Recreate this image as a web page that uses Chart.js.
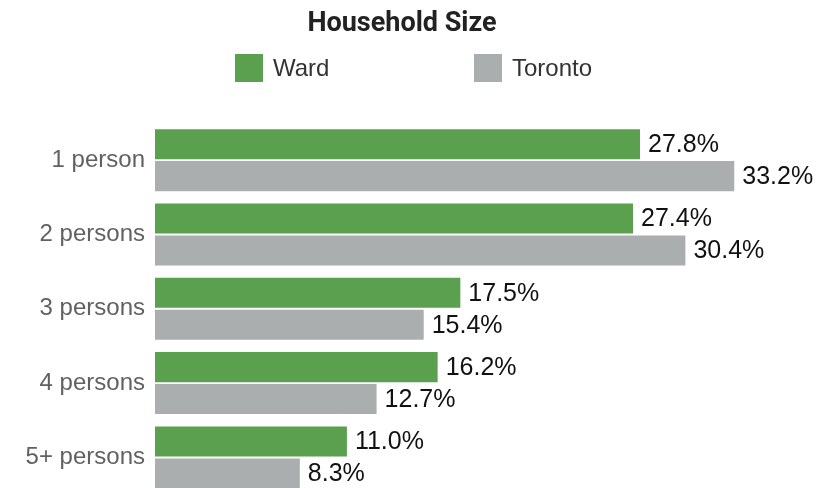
<!DOCTYPE html>
<html>
<head>
<meta charset="utf-8">
<script src="https://cdn.jsdelivr.net/npm/chart.js@4"></script>
<style>
  body { margin: 0; background: #fff; overflow: hidden; }
  #wrap { width: 833px; height: 519px; }
</style>
</head>
<body>
<div id="wrap"><canvas id="household" width="833" height="519"></canvas></div>
<script>
const chartTitle = 'Household Size';
const categories = ['1 person', '2 persons', '3 persons', '4 persons', '5+ persons'];
const wardValues = [27.8, 27.4, 17.5, 16.2, 11.0];
const torontoValues = [33.2, 30.4, 15.4, 12.7, 8.3];

const GREEN = '#5aa04f';
const GREY = '#abaeae';

// title + legend drawn on top of the reserved padding
const headerPlugin = {
	id: 'header',
	afterDraw(chart) {
		const ctx = chart.ctx;
		ctx.save();
		ctx.fillStyle = '#222';
		ctx.font = 'bold 27px Roboto';
		ctx.textAlign = 'center';
		ctx.textBaseline = 'alphabetic';
		ctx.fillText(chartTitle, 402, 31);

		const items = [[235, 0], [474, 1]];
		ctx.font = '24px "Liberation Sans"';
		ctx.textAlign = 'left';
		ctx.textBaseline = 'middle';
		items.forEach(([x, i]) => {
			const ds = chart.data.datasets[i];
			ctx.fillStyle = ds.backgroundColor;
			ctx.fillRect(x, 54, 28, 28);
			ctx.fillStyle = '#333';
			ctx.fillText(ds.label, x + 38, 69);
		});
		ctx.restore();
	}
};

// value labels at the end of each bar
const valueLabels = {
	id: 'valueLabels',
	afterDatasetsDraw(chart) {
		const ctx = chart.ctx;
		ctx.save();
		ctx.font = '25px "Liberation Sans"';
		ctx.fillStyle = '#111';
		ctx.textAlign = 'left';
		ctx.textBaseline = 'middle';
		chart.data.datasets.forEach((ds, i) => {
			chart.getDatasetMeta(i).data.forEach((bar, j) => {
				ctx.fillText(ds.data[j].toFixed(1) + '%', bar.x + 8, bar.y + 1);
			});
		});
		ctx.restore();
	}
};

try {
	new Chart(document.getElementById('household'), {
		type: 'bar',
		data: {
			labels: categories,
			datasets: [{
				label: 'Ward',
				data: wardValues,
				backgroundColor: GREEN,
				categoryPercentage: 0.86,
				barPercentage: 0.94
			},
			{
				label: 'Toronto',
				data: torontoValues,
				backgroundColor: GREY,
				categoryPercentage: 0.86,
				barPercentage: 0.94
			}]
		},
		options: {
			indexAxis: 'y',
			responsive: false,
			animation: false,
			devicePixelRatio: 1,
			layout: { padding: { top: 123, bottom: 0, left: 0, right: 15 } },
			plugins: {
				legend: { display: false },
				title: { display: false },
				tooltip: { enabled: false }
			},
			scales: {
				x: {
					display: false,
					min: 0,
					max: 38
				},
				y: {
					grid: { display: false, drawTicks: false },
					border: { display: false },
					ticks: {
						color: '#616161',
						padding: 10,
						font: { family: 'Liberation Sans', size: 24 }
					},
					afterFit(scale) { scale.width = 155; }
				}
			}
		},
		plugins: [headerPlugin, valueLabels]
	});
} catch (error) {
	console.log(error);
}
</script>
</body>
</html>
